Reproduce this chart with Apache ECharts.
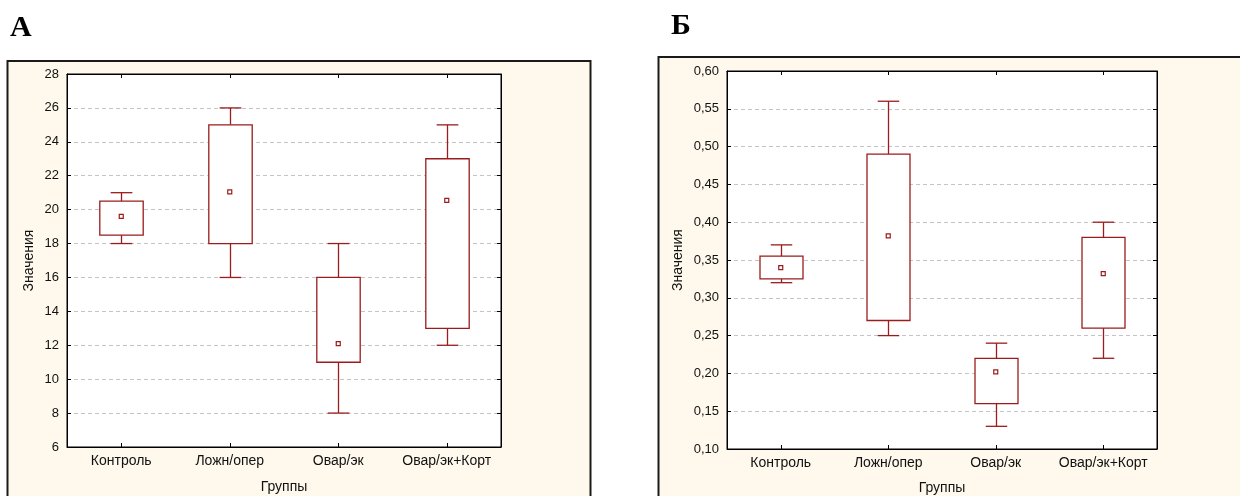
<!DOCTYPE html>
<html>
<head>
<meta charset="utf-8">
<script src="https://cdn.jsdelivr.net/npm/echarts@6/dist/echarts.min.js"></script>
<style>
  html, body { margin: 0; padding: 0; background: #fff; }
  #chart { width: 1240px; height: 496px; }
</style>
</head>
<body>
<div id="chart"></div>
<script>
// ---- data ----
const categories = ['Контроль', 'Ложн/опер', 'Овар/эк', 'Овар/эк+Корт'];

// Panel А
const aLow  = [18, 16, 8, 12];
const aQ1   = [18.5, 18, 11, 13];
const aQ3   = [20.5, 25, 16, 23];
const aHigh = [21, 26, 18, 25];
const aMean = [19.6, 21.05, 12.1, 20.55];
const aMin = 6, aMax = 28, aStep = 2;

// Panel Б
const bLow  = [0.32, 0.25, 0.13, 0.22];
const bQ1   = [0.325, 0.27, 0.16, 0.26];
const bQ3   = [0.355, 0.49, 0.22, 0.38];
const bHigh = [0.37, 0.56, 0.24, 0.40];
const bMean = [0.34, 0.382, 0.202, 0.332];
const bMin = 0.10, bMax = 0.60, bStep = 0.05;

const panelTitles = ['А', 'Б'];
const yTitle = 'Значения';
const xTitle = 'Группы';

// ---- style ----
const RED = '#9b1c1c';
const FONT = 'Liberation Sans, Arial, sans-serif';

function boxRows(lo, q1, q3, hi) {
  return categories.map((c, i) => [i, lo[i], q1[i], q3[i], hi[i]]);
}

function renderBox(params, api) {
  const i = api.value(0);
  const lo = api.coord([i, api.value(1)]);
  const q1 = api.coord([i, api.value(2)]);
  const q3 = api.coord([i, api.value(3)]);
  const hi = api.coord([i, api.value(4)]);
  const band = api.size([1, 0])[0];
  const bw = band * 0.4;
  const cw = bw / 2;
  const cx = Math.round(lo[0]) + 0.5;
  const st = { stroke: RED, lineWidth: 1.3, fill: null };
  return {
    type: 'group',
    children: [
      { type: 'line', shape: { x1: cx, y1: hi[1], x2: cx, y2: q3[1] }, style: st },
      { type: 'line', shape: { x1: cx, y1: q1[1], x2: cx, y2: lo[1] }, style: st },
      { type: 'line', shape: { x1: cx - cw / 2, y1: hi[1], x2: cx + cw / 2, y2: hi[1] }, style: st },
      { type: 'line', shape: { x1: cx - cw / 2, y1: lo[1], x2: cx + cw / 2, y2: lo[1] }, style: st },
      { type: 'rect', shape: { x: cx - bw / 2, y: q3[1], width: bw, height: q1[1] - q3[1] },
        style: { stroke: RED, lineWidth: 1.3, fill: '#fff' } }
    ]
  };
}

function xMain(gi, nameGap) {
  return {
    type: 'category', gridIndex: gi, data: categories, position: 'bottom',
    boundaryGap: true,
    name: xTitle, nameLocation: 'middle', nameGap: nameGap,
    nameTextStyle: { fontFamily: FONT, fontSize: 14, color: '#111' },
    axisLine: { show: true, lineStyle: { color: '#000', width: 1 } },
    axisTick: { show: true, inside: true, length: 4, alignWithLabel: true, interval: 0, lineStyle: { color: '#000' } },
    axisLabel: { fontFamily: FONT, fontSize: 14, color: '#111', margin: 7, interval: 0, hideOverlap: false },
    splitLine: { show: false }
  };
}
function xTop(gi) {
  return {
    type: 'category', gridIndex: gi, data: categories, position: 'top',
    boundaryGap: true,
    axisLine: { show: true, lineStyle: { color: '#000', width: 1 } },
    axisTick: { show: true, inside: true, length: 4, alignWithLabel: true, interval: 0, lineStyle: { color: '#000' } },
    axisLabel: { show: false }, splitLine: { show: false }
  };
}
function yMain(gi, min, max, step, fmt, nameGap) {
  return {
    type: 'value', gridIndex: gi, min: min, max: max, interval: step, position: 'left',
    name: yTitle, nameLocation: 'middle', nameGap: nameGap, nameRotate: 90,
    nameTextStyle: { fontFamily: FONT, fontSize: 14, color: '#111' },
    axisLine: { show: true, lineStyle: { color: '#000', width: 1 } },
    axisTick: { show: true, inside: true, length: 4, lineStyle: { color: '#000' } },
    axisLabel: { fontFamily: FONT, fontSize: 13, color: '#111', margin: 8, formatter: fmt },
    splitLine: { show: true, lineStyle: { color: '#c4c4c4', type: [4, 3], width: 1 } }
  };
}
function yRight(gi, min, max, step) {
  return {
    type: 'value', gridIndex: gi, min: min, max: max, interval: step, position: 'right',
    axisLine: { show: true, lineStyle: { color: '#000', width: 1 } },
    axisTick: { show: true, inside: true, length: 4, lineStyle: { color: '#000' } },
    axisLabel: { show: false }, splitLine: { show: false }
  };
}

const chart = echarts.init(document.getElementById('chart'), null, { renderer: 'canvas' });

const titleStyle = { fontFamily: 'Liberation Serif, Times New Roman, serif', fontWeight: 'bold', fontSize: 30, color: '#000' };

chart.setOption({
  animation: false,
  backgroundColor: '#fff',
  title: [
    { text: panelTitles[0], left: 10, top: 13, padding: 0, textStyle: titleStyle },
    { text: panelTitles[1], left: 671, top: 11, padding: 0, textStyle: titleStyle }
  ],
  graphic: [
    { type: 'rect', z: -10, shape: { x: 7.5, y: 61, width: 583, height: 500 },
      style: { fill: '#fef9ec', stroke: '#1a1a1a', lineWidth: 2 } },
    { type: 'rect', z: -10, shape: { x: 658.5, y: 57, width: 700, height: 500 },
      style: { fill: '#fef9ec', stroke: '#1a1a1a', lineWidth: 2 } }
  ],
  grid: [
    { left: 67, top: 74, width: 434, height: 373, outerBoundsMode: 'none', containLabel: false,
      show: true, backgroundColor: '#fff', borderColor: '#000', borderWidth: 1 },
    { left: 727, top: 71, width: 430, height: 378, outerBoundsMode: 'none', containLabel: false,
      show: true, backgroundColor: '#fff', borderColor: '#000', borderWidth: 1 }
  ],
  xAxis: [xMain(0, 33), xTop(0), xMain(1, 32), xTop(1)],
  yAxis: [
    yMain(0, aMin, aMax, aStep, v => String(Math.round(v)), 31),
    yRight(0, aMin, aMax, aStep),
    yMain(1, bMin, bMax, bStep, v => v.toFixed(2).replace('.', ','), 42),
    yRight(1, bMin, bMax, bStep)
  ],
  series: [
    { type: 'custom', xAxisIndex: 0, yAxisIndex: 0, renderItem: renderBox,
      encode: { x: 0, y: [1, 2, 3, 4] }, data: boxRows(aLow, aQ1, aQ3, aHigh), z: 3 },
    { type: 'scatter', xAxisIndex: 0, yAxisIndex: 0, symbol: 'rect', symbolSize: 4,
      itemStyle: { color: '#fff', borderColor: RED, borderWidth: 1.2, opacity: 1 },
      data: aMean.map((v, i) => [i, v]), z: 5 },
    { type: 'custom', xAxisIndex: 2, yAxisIndex: 2, renderItem: renderBox,
      encode: { x: 0, y: [1, 2, 3, 4] }, data: boxRows(bLow, bQ1, bQ3, bHigh), z: 3 },
    { type: 'scatter', xAxisIndex: 2, yAxisIndex: 2, symbol: 'rect', symbolSize: 4,
      itemStyle: { color: '#fff', borderColor: RED, borderWidth: 1.2, opacity: 1 },
      data: bMean.map((v, i) => [i, v]), z: 5 }
  ]
});
</script>
</body>
</html>
